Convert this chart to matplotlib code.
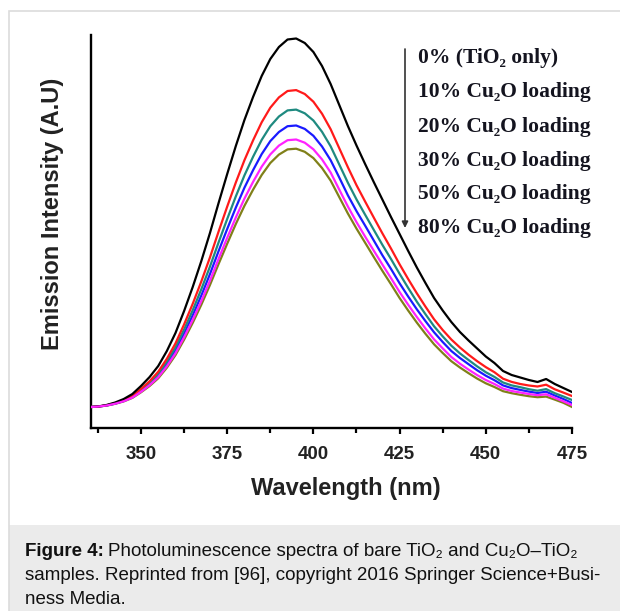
import matplotlib
matplotlib.use("Agg")
import matplotlib.pyplot as plt
from matplotlib.patches import Rectangle
from matplotlib.ticker import FixedLocator

# ---------------- data ----------------
wavelength = [335.5, 337.5, 340, 342.5, 345, 347.5, 350, 352.5, 355, 357.5,
              360, 362.5, 365, 367.5, 370, 372.5, 375, 377.5, 380, 382.5,
              385, 387.5, 390, 392.5, 395, 397.5, 400, 402.5, 405, 407.5,
              410, 412.5, 415, 417.5, 420, 422.5, 425, 427.5, 430, 432.5,
              435, 437.5, 440, 442.5, 445, 447.5, 450, 452.5, 455, 457.5,
              460, 462.5, 465, 467.5, 470, 472.5, 475]

tio2_only = [21, 21.5, 23, 25.5, 29, 34, 42, 51, 62, 77,
             95, 117, 141, 167, 195, 225, 254, 282, 308, 331,
             352, 369, 381, 388.5, 389.5, 385, 376, 362, 344, 323,
             302, 282.5, 264, 246, 228.5, 211, 194, 177, 160.5, 145,
             130, 117.5, 106, 96, 87.5, 79.5, 71.5, 65, 57, 53,
             50.5, 48, 46, 49, 44, 40, 36]
cu2o_10 = [21, 21.4, 22.7, 24.9, 27.9, 32.2, 39.1, 46.8, 56.3, 69.2,
           84.6, 103.6, 124.2, 146.6, 170.6, 196.4, 221.4, 245.5, 267.8, 287.6,
           305.7, 320.3, 330.6, 337, 337.9, 334, 326.3, 314.3, 298.8, 279.8,
           260.8, 242.8, 226.5, 210.5, 194.7, 179.5, 163.7, 148.9, 134.7, 121.4,
           108.7, 98, 88.5, 80.5, 73.3, 66.8, 60.9, 55.8, 49.3, 46.1,
           44, 42.5, 41.5, 43.3, 38.7, 35.4, 32]
cu2o_20 = [21, 21.4, 22.6, 24.6, 27.5, 31.5, 38, 45.2, 54.1, 66.2,
           80.7, 98.5, 117.8, 138.8, 161.4, 185.6, 209, 231.6, 252.6, 271.2,
           288.1, 301.8, 311.5, 317.6, 318.4, 314.7, 307.5, 296.2, 281.7, 263.5,
           245.3, 228.6, 213.3, 198.2, 183.2, 169, 154.2, 140, 126.3, 113.8,
           101.7, 91.6, 82.3, 74.6, 68, 61.6, 55.8, 51.1, 45.5, 42.6,
           40.8, 38.8, 37.3, 38.9, 34.8, 31.5, 28]
cu2o_30 = [21, 21.4, 22.5, 24.4, 27.1, 30.9, 37, 43.9, 52.3, 63.8,
           77.5, 94.3, 112.7, 132.5, 153.9, 176.9, 199, 220.4, 240.3, 257.8,
           273.9, 286.9, 296, 301.8, 302.5, 299.1, 292.2, 281.5, 267.8, 250.5,
           232.7, 216.9, 202.4, 187.6, 172.8, 159.1, 144.7, 131.4, 118.7, 106.9,
           95.7, 86, 77, 70, 63.8, 57.7, 52.3, 47.8, 42.6, 39.9,
           38.1, 36.4, 35, 36.3, 32.5, 29, 25]
cu2o_50 = [21, 21.4, 22.5, 24.3, 26.8, 30.4, 36.2, 42.8, 50.8, 61.7,
           74.7, 90.7, 108.1, 127, 147.3, 169.1, 190.2, 210.5, 229.4, 246.1,
           261.3, 273.6, 282.4, 287.8, 288.5, 285.3, 278.7, 268.6, 255.5, 238.4,
           221.5, 205.9, 191.4, 177.4, 163.5, 149.9, 136, 123.2, 111, 99.5,
           88.6, 79.6, 71, 64.3, 58.4, 52.9, 48, 44, 39.4, 37,
           35.5, 34, 32.8, 33.7, 30.2, 26.7, 23]
cu2o_80 = [21, 21.4, 22.4, 24.2, 26.6, 30.1, 35.7, 42, 49.7, 60.3,
           72.9, 88.3, 105.1, 123.3, 143, 164, 184.3, 204, 222.2, 238.3,
           253, 265, 273.4, 278.6, 279.3, 276.2, 269.9, 260, 247.4, 230.9,
           214.5, 199.4, 185.3, 171.1, 157.2, 143.8, 130, 117.4, 105.4, 94.2,
           83.7, 75, 66.8, 60.5, 54.8, 49.4, 44.7, 41, 36.8, 34.8,
           33.2, 31.8, 30.8, 31.4, 28.4, 25.2, 21]

series_labels = ["0% (TiO\u2082 only)", "10% Cu\u2082O loading", "20% Cu\u2082O loading",
                 "30% Cu\u2082O loading", "50% Cu\u2082O loading", "80% Cu\u2082O loading"]
series_values = [tio2_only, cu2o_10, cu2o_20, cu2o_30, cu2o_50, cu2o_80]
series_colors = ["#000000", "#ff1a1a", "#1f8a80", "#1a1aff", "#ff22ff", "#808019"]
major_ticks = [350, 375, 400, 425, 450, 475]
minor_ticks = [337.5, 362.5, 387.5, 412.5, 437.5, 462.5]

caption_bold = "Figure 4:"
caption_lines = ["Photoluminescence spectra of bare TiO\u2082 and Cu\u2082O\u2013TiO\u2082",
                 "samples. Reprinted from [96], copyright 2016 Springer Science+Busi-",
                 "ness Media."]

# ---------------- figure ----------------
W, H = 620, 611
fig = plt.figure(figsize=(W / 100, H / 100), dpi=100)
fig.patch.set_facecolor("white")

def fx(px):
    return px / W

def fy(py):
    return 1 - py / H

# caption background and outer frame
fig.patches.append(Rectangle((fx(9), -0.1), 1.2, fy(525) + 0.1,
                             transform=fig.transFigure, facecolor="#ebebeb",
                             edgecolor="none", zorder=-2))
fig.patches.append(Rectangle((fx(9), -0.1), 1.2, fy(11) + 0.1,
                             transform=fig.transFigure, facecolor="none",
                             edgecolor="#dcdcdc", lw=1.2, zorder=-1))

ax_l, ax_r, ax_b, ax_t = 91, 572, 428, 35
ax = fig.add_axes([fx(ax_l), fy(ax_b), (ax_r - ax_l) / W, (ax_b - ax_t) / H])
ax.patch.set_alpha(0)

draw_order = [5, 3, 2, 1, 0, 4]
for k, i in enumerate(draw_order):
    ax.plot(wavelength, series_values[i], color=series_colors[i], lw=1.6,
            solid_joinstyle="round", zorder=3 + k)

ax.set_xlim(335.5, 475)
ax.set_ylim(0, 393)
for s in ["top", "right"]:
    ax.spines[s].set_visible(False)
for s in ["left", "bottom"]:
    ax.spines[s].set_linewidth(1.7)
ax.set_yticks([])
ax.xaxis.set_major_locator(FixedLocator(major_ticks))
ax.xaxis.set_minor_locator(FixedLocator(minor_ticks))
ax.tick_params(axis="x", which="major", direction="out", length=4.5, width=1.6,
               pad=8.5, labelsize=13.5)
ax.tick_params(axis="x", which="minor", direction="out", length=3.5, width=1.6)
for lab in ax.get_xticklabels():
    lab.set_fontfamily("Liberation Sans")
    lab.set_fontweight("bold")
    lab.set_color("#222222")

ax.set_xlabel("Wavelength (nm)", fontsize=17, fontweight="bold",
              family="Liberation Sans", color="#222222")
ax.xaxis.set_label_coords((346 - ax_l) / (ax_r - ax_l), (ax_b - 488) / (ax_b - ax_t))
ax.xaxis.label.set_va("center")
ax.set_ylabel("Emission Intensity (A.U)", fontsize=17, fontweight="bold",
              family="Liberation Sans", color="#222222")
ax.yaxis.set_label_coords((53 - ax_l) / (ax_r - ax_l), (ax_b - 214) / (ax_b - ax_t))
ax.yaxis.label.set_va("center")
ax.yaxis.label.set_ha("center")

# legend-like labels with arrow
for i, lab in enumerate(series_labels):
    fig.text(fx(418), fy(56 + 34 * i), lab, fontsize=15.5, fontweight="bold",
             family=["Liberation Serif", "DejaVu Serif"], color="#14141f",
             ha="left", va="center_baseline")
ax.annotate("", xy=(fx(405), fy(228)), xytext=(fx(405), fy(49)),
            xycoords="figure fraction", textcoords="figure fraction",
            arrowprops=dict(arrowstyle="-|>", lw=1.2, color="#333333",
                            mutation_scale=9, shrinkA=0, shrinkB=0))

# caption
fam = ["Liberation Sans", "DejaVu Sans"]
cap_size = 13.5
tb = fig.text(fx(25), fy(556), caption_bold, fontsize=cap_size, fontweight="bold",
              family=fam, color="#111111", va="baseline", ha="left")
fig.canvas.draw()
bb = tb.get_window_extent()
x_after = bb.x1 / W + 4.5 / W
fig.text(x_after, fy(556), caption_lines[0], fontsize=cap_size, family=fam,
         color="#111111", va="baseline", ha="left")
fig.text(fx(25), fy(580), caption_lines[1], fontsize=cap_size, family=fam,
         color="#111111", va="baseline", ha="left")
fig.text(fx(25), fy(604), caption_lines[2], fontsize=cap_size, family=fam,
         color="#111111", va="baseline", ha="left")

fig.savefig("out.png", dpi=100)
